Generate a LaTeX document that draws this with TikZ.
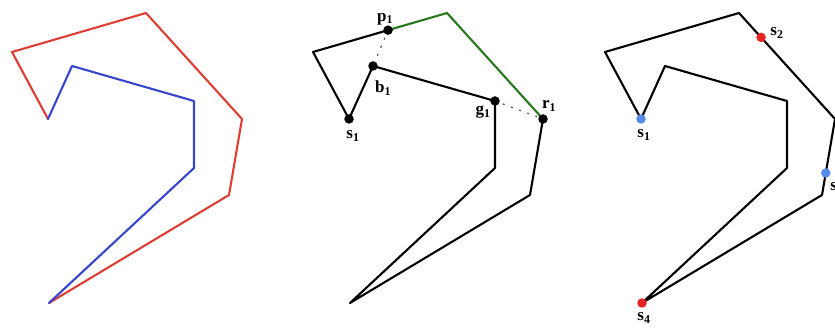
\documentclass[tikz,border=0pt]{standalone}
\usepackage{fontspec}
\setmainfont{Liberation Serif}
\usetikzlibrary{calc}
\definecolor{polyred}{RGB}{222,62,52}
\definecolor{polyblue}{RGB}{55,70,205}
\definecolor{polygreen}{RGB}{40,120,30}
\definecolor{dotblue}{RGB}{85,140,235}
\definecolor{dotred}{RGB}{232,35,35}
\newcommand\polycoords{%
  \coordinate (A) at (48,119);
  \coordinate (B) at (12,52);
  \coordinate (C) at (146,13);
  \coordinate (D) at (242,119);
  \coordinate (E) at (229,195);
  \coordinate (F) at (49,303);
  \coordinate (G) at (194,168);
  \coordinate (H) at (194,101);
  \coordinate (I) at (72,66);
}
\tikzset{
  edge/.style={line width=2.1pt, line join=round, line cap=round},
  dot/.style={circle, fill=black, inner sep=0pt, minimum size=9.5pt},
  cdot/.style={circle, inner sep=0pt, minimum size=9.5pt},
  lbl/.style={inner sep=0pt, font=\fontsize{17}{20}\selectfont\bfseries},
  dots/.style={line width=1.4pt, gray!70!black, dash pattern=on 1.2pt off 7.5pt, line cap=round}
}
\begin{document}
\begin{tikzpicture}[x=1pt,y=-1pt]
\useasboundingbox (0,0) rectangle (835,328);
\clip (0,0) rectangle (835,328);
% panel 1
\begin{scope}[name prefix=L-]
  \polycoords
  \draw[edge, polyred] (A) -- (B) -- (C) -- (D) -- (E) -- (F);
  \draw[edge, polyblue] (F) -- (G) -- (H) -- (I) -- (A);
\end{scope}
% panel 2
\begin{scope}[xshift=301pt, name prefix=M-]
  \polycoords
  \coordinate (p) at ($(B)!0.56!(C)$);
  \draw[dots] (p) -- (I);
  \draw[dots] (H) -- (D);
  \draw[edge] (A) -- (B) -- (p);
  \draw[edge, polygreen] (p) -- (C) -- (D);
  \draw[edge] (D) -- (E) -- (F) -- (G) -- (H) -- (I) -- (A);
  \node[dot] (p1) at (p) {};
  \node[dot] (b1) at (I) {};
  \node[dot] (g1) at (H) {};
  \node[dot] (r1) at (D) {};
  \node[dot] (s1) at (A) {};
  \node[lbl] (p1l) at (84,19) {p\textsubscript{1}};
  \node[lbl] (b1l) at (82,88) {b\textsubscript{1}};
  \node[lbl] (g1l) at (182,112) {g\textsubscript{1}};
  \node[lbl] (r1l) at (248,106) {r\textsubscript{1}};
  \node[lbl] (s1l) at (52,136) {s\textsubscript{1}};
\end{scope}
% panel 3
\begin{scope}[xshift=593pt, name prefix=R-]
  \polycoords
  \draw[edge] (A) -- (B) -- (C) -- (D) -- (E) -- (F) -- (G) -- (H) -- (I) -- cycle;
  \node[cdot, fill=dotblue] (s1) at (A) {};
  \node[cdot, fill=dotred] (s2) at ($(C)!0.23!(D)$) {};
  \node[cdot, fill=dotblue] (s3) at ($(D)!0.71!(E)$) {};
  \node[cdot, fill=dotred] (s4) at (F) {};
  \node[lbl] (s1l) at (51,135) {s\textsubscript{1}};
  \node[lbl] (s2l) at (184,33) {s\textsubscript{2}};
  \node[lbl] (s3l) at (244,188) {s\textsubscript{3}};
  \node[lbl] (s4l) at (51,318) {s\textsubscript{4}};
\end{scope}
\end{tikzpicture}
\end{document}
